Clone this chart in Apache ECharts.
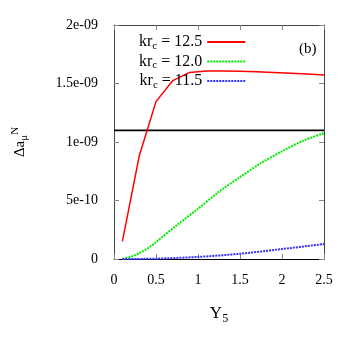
<!DOCTYPE html>
<html><head><meta charset="utf-8">
<script src="https://cdn.jsdelivr.net/npm/echarts@6/dist/echarts.min.js"></script>
<style>html,body{margin:0;padding:0;background:#fff}#c{width:346px;height:346px}</style>
</head><body><div id="c"></div>
<script>
const xRed = [0.1, 0.3, 0.5, 0.7, 0.9, 1.1, 1.3, 1.5, 1.7, 1.9, 2.1, 2.3, 2.5];
const red = [0.15e-9, 0.88e-9, 1.345e-9, 1.525e-9, 1.595e-9, 1.607e-9, 1.607e-9, 1.604e-9, 1.6e-9, 1.595e-9, 1.588e-9, 1.581e-9, 1.573e-9];
const xGreen = [0.1, 0.2, 0.3, 0.4, 0.5, 0.75, 1.0, 1.25, 1.5, 1.75, 2.0, 2.25, 2.5];
const green = [0.0, 0.02e-9, 0.05e-9, 0.09e-9, 0.145e-9, 0.29e-9, 0.43e-9, 0.575e-9, 0.70e-9, 0.82e-9, 0.92e-9, 1.01e-9, 1.075e-9];
const xBlue = [0.1, 0.5, 1.0, 1.5, 2.0, 2.5];
const blue = [0.0, 0.003e-9, 0.018e-9, 0.045e-9, 0.085e-9, 0.128e-9];
const xRef = [0, 2.5];
const refLine = [1.1e-9, 1.1e-9];
const xTicks = ['0', '0.5', '1', '1.5', '2', '2.5'];
const yTicks = ['0', '5e-10', '1e-09', '1.5e-09', '2e-09'];
const names = ['12.5', '12.0', '11.5'];

const F = "'Liberation Serif', serif";
const zip = (xs, ys) => xs.map((x, i) => [x, ys[i]]);
const chart = echarts.init(document.getElementById('c'));
const frame = '#444';
chart.setOption({
  animation: false,
  grid: {left: 114, top: 25, right: 22, bottom: 87},
  legend: {
    left: 134, top: 29, orient: 'vertical', align: 'right',
    itemWidth: 38, itemHeight: 12, itemGap: 2,
    data: names,
    itemStyle: {opacity: 0},
    formatter: n => '{a|kr}{s|c}{a| = ' + n + '}',
    textStyle: {
      fontFamily: F, color: '#000',
      rich: {a: {fontFamily: F, fontSize: 16, color: '#000'},
             s: {fontFamily: F, fontSize: 11, color: '#000', padding: [8, 0, 0, 0]}}
    }
  },
  graphic: [{type: 'text', left: 299, top: 42, style: {text: '(b)', font: "15px 'Liberation Serif'", fill: '#000'}}],
  xAxis: [{
    type: 'value', min: 0, max: 2.5, interval: 0.5,
    name: '{a|Y}{s|5}', nameLocation: 'middle', nameGap: 44,
    nameTextStyle: {rich: {a: {fontFamily: F, fontSize: 17, color: '#000'}, s: {fontFamily: F, fontSize: 12, color: '#000', padding: [10, 0, 0, 0]}}},
    axisLine: {onZero: false, lineStyle: {color: '#000', width: 1}},
    axisTick: {inside: true, length: 5, lineStyle: {color: '#888'}},
    axisLabel: {margin: 14, fontFamily: F, fontSize: 14, color: '#000', formatter: (v) => xTicks[Math.round(v / 0.5)]},
    splitLine: {show: false}
  }, {
    type: 'value', position: 'top', min: 0, max: 2.5, interval: 0.5,
    axisLine: {onZero: false, lineStyle: {color: frame, width: 1}},
    axisTick: {inside: true, length: 5, lineStyle: {color: '#888'}},
    axisLabel: {show: false}, splitLine: {show: false}
  }],
  yAxis: [{
    type: 'value', min: 0, max: 2e-9, interval: 0.5e-9,
    name: '{a|Δa}{s|μ}{p|N}', nameLocation: 'middle', nameGap: 84, nameRotate: 90,
    nameTextStyle: {rich: {a: {fontFamily: F, fontSize: 15, color: '#000'},
      s: {fontFamily: F, fontSize: 11, color: '#000', padding: [9, 0, 0, 0]},
      p: {fontFamily: F, fontSize: 11, color: '#000', padding: [0, 0, 9, 0]}}},
    axisLine: {onZero: false, lineStyle: {color: frame, width: 1}},
    axisTick: {inside: true, length: 5, lineStyle: {color: '#888'}},
    axisLabel: {margin: 16, fontFamily: F, fontSize: 14, color: '#000', formatter: (v) => yTicks[Math.round(v / 0.5e-9)]},
    splitLine: {show: false}
  }, {
    type: 'value', position: 'right', min: 0, max: 2e-9, interval: 0.5e-9,
    axisLine: {onZero: false, lineStyle: {color: frame, width: 1}},
    axisTick: {inside: true, length: 5, lineStyle: {color: '#888'}},
    axisLabel: {show: false}, splitLine: {show: false}
  }],
  series: [
    {name: 'ref', type: 'line', data: zip(xRef, refLine), symbol: 'none', silent: true, z: 1, lineStyle: {color: '#000', width: 1.8}},
    {name: names[0], type: 'line', data: zip(xRed, red), symbol: 'none', z: 3, lineStyle: {color: '#ff0000', width: 1.5}, itemStyle: {color: '#ff0000'}},
    {name: names[1], type: 'line', data: zip(xGreen, green), symbol: 'none', z: 3, smooth: 0.3, lineStyle: {color: '#00ee00', width: 2, type: [2, 1]}, itemStyle: {color: '#00ee00'}},
    {name: names[2], type: 'line', data: zip(xBlue, blue), symbol: 'none', z: 3, smooth: 0.3, lineStyle: {color: '#3333ff', width: 2, type: [2, 1]}, itemStyle: {color: '#3333ff'}}
  ]
});
</script></body></html>
